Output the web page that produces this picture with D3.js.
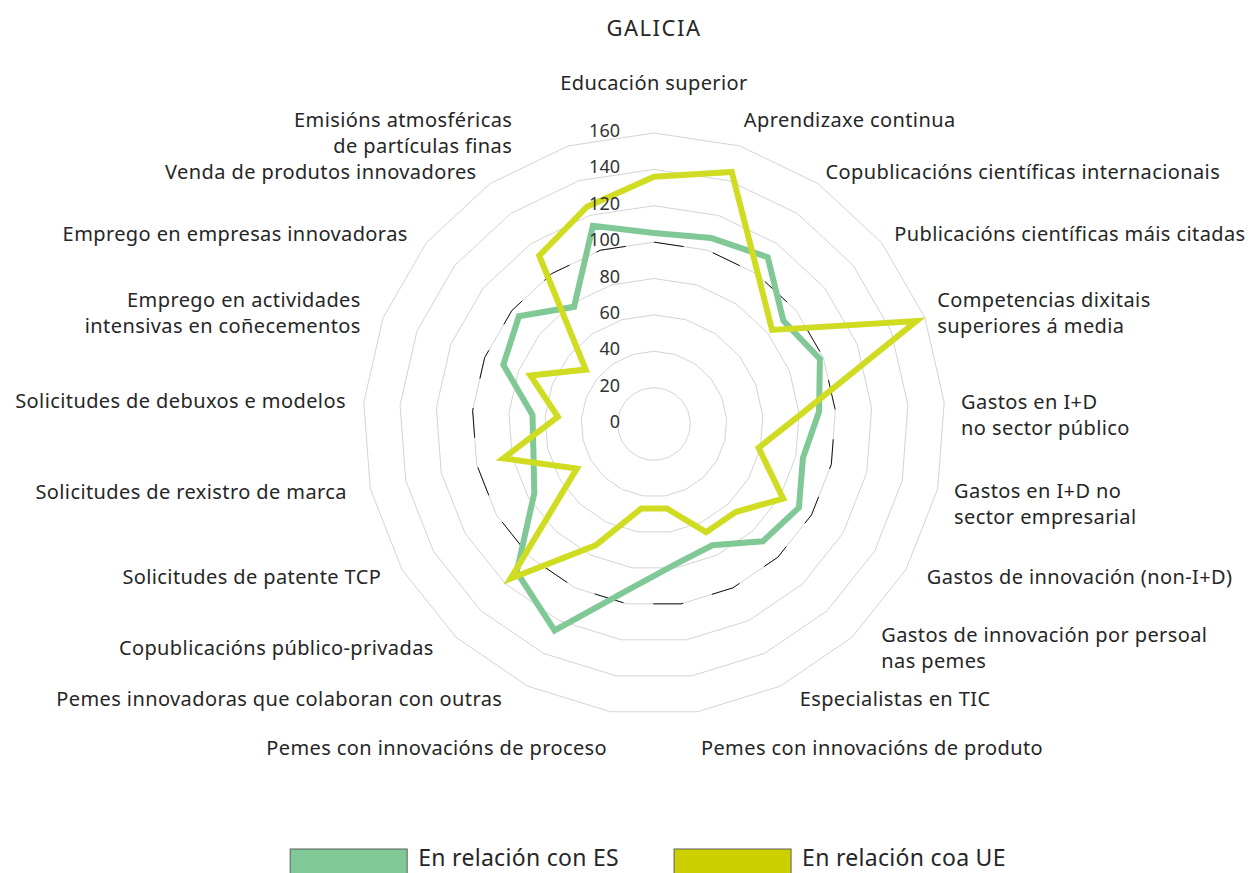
<!DOCTYPE html>
<html>
<head>
<meta charset="utf-8">
<script src="https://cdn.jsdelivr.net/npm/d3@7"></script>
<style>
    body { margin: 0; background: #fff; }
    svg text { font-family: "Noto Sans", sans-serif; fill: #262626; }
</style>
</head>
<body>
<script>
//axis categories, clockwise from the top ("\n" splits a label in two lines)
var categories = [
    "Educación superior",
    "Aprendizaxe continua",
    "Copublicacións científicas internacionais",
    "Publicacións científicas máis citadas",
    "Competencias dixitais\nsuperiores á media",
    "Gastos en I+D\nno sector público",
    "Gastos en I+D no\nsector empresarial",
    "Gastos de innovación (non-I+D)",
    "Gastos de innovación por persoal\nnas pemes",
    "Especialistas en TIC",
    "Pemes con innovacións de produto",
    "Pemes con innovacións de proceso",
    "Pemes innovadoras que colaboran con outras",
    "Copublicacións público-privadas",
    "Solicitudes de patente TCP",
    "Solicitudes de rexistro de marca",
    "Solicitudes de debuxos e modelos",
    "Emprego en actividades\nintensivas en coñecementos",
    "Emprego en empresas innovadoras",
    "Venda de produtos innovadores",
    "Emisións atmosféricas\nde partículas finas"
];

var seriesNames = ["En relación con ES", "En relación coa UE"];

//index values, Galicia relative to Spain
var valuesES = [105, 107, 111, 91, 98, 91, 84, 92, 88, 74, 78, 92, 126, 111, 76, 68, 67, 89, 95, 78, 114];

//index values, Galicia relative to the EU
var valuesUE = [136, 145, 101, 83, 155, 82, 59, 82, 66, 66, 47, 47, 74, 116, 49, 85, 53, 73, 48, 112, 125];

var referenceValue = 100;
var tickValues = [0, 20, 40, 60, 80, 100, 120, 140, 160];
var chartTitle = "GALICIA";

function setChart() {
    var width = 1252,
        height = 873;
    var cx = 654,
        cy = 424,
        radius = 291;

    var colorES = "#80c996",
        colorUE = "#d0dc22",
        legendColors = ["#80c996", "#cccf00"];

    //small label nudges (dx, dy) where the automatic placement drifts
    var labelNudge = {
        1: [-3, -13], 2: [-6, 0], 3: [-6, 0], 4: [-10, 0], 5: [-7, 14], 6: [-7, 12],
        8: [13, 0], 9: [9, 0], 12: [-15, 0], 13: [-6, 0], 16: [6, 0]
    };

    var svg = d3.select("body")
        .append("svg")
        .attr("width", width)
        .attr("height", height);

    //title
    svg.append("text")
        .attr("x", cx)
        .attr("y", 27)
        .attr("text-anchor", "middle")
        .attr("dominant-baseline", "central")
        .style("font-size", "22px")
        .style("letter-spacing", "1.5px")
        .text(chartTitle);

    //angle scale goes clockwise from 12 o'clock, radius scale from 0 to 160
    var angle = d3.scaleLinear()
        .domain([0, categories.length])
        .range([0, 2 * Math.PI]);
    var r = d3.scaleLinear()
        .domain([0, d3.max(tickValues)])
        .range([0, radius]);

    var radial = d3.lineRadial()
        .angle(function (d, i) { return angle(i); })
        .radius(function (d) { return r(d); })
        .curve(d3.curveLinearClosed);

    var g = svg.append("g")
        .attr("transform", `translate(${cx},${cy})`);

    //polygon gridlines
    g.selectAll(".grid")
        .data(tickValues.filter(function (t) { return t > 0; }))
        .join("path")
        .attr("class", "grid")
        .attr("d", function (t) { return radial(categories.map(function () { return t; })); })
        .attr("fill", "none")
        .attr("stroke", "#d4d4d4")
        .attr("stroke-width", 1);

    //dashed reference line at 100
    g.append("path")
        .attr("d", radial(categories.map(function () { return referenceValue; })))
        .attr("fill", "none")
        .attr("stroke", "#111")
        .attr("stroke-width", 1)
        .attr("stroke-dasharray", "30,30");

    //series lines
    [[valuesES, colorES], [valuesUE, colorUE]].forEach(function (s) {
        g.append("path")
            .attr("d", radial(s[0]))
            .attr("fill", "none")
            .attr("stroke", s[1])
            .attr("stroke-width", 6)
            .attr("stroke-linejoin", "miter")
            .attr("stroke-miterlimit", 10);
    });

    //tick labels on the vertical axis
    g.selectAll(".tick")
        .data(tickValues)
        .join("text")
        .attr("class", "tick")
        .attr("x", -34)
        .attr("y", function (t) { return -r(t) - 3; })
        .attr("text-anchor", "end")
        .attr("dominant-baseline", "central")
        .style("font-size", "18px")
        .style("fill", "#333")
        .text(function (t) { return t; });

    //category labels around the outside
    var labelBoxes = [];
    categories.forEach(function (cat, i) {
        var a = angle(i),
            s = Math.sin(a),
            c = Math.cos(a);
        var lines = cat.split("\n");
        var anchor = s > 0.05 ? "start" : (s < -0.05 ? "end" : "middle");
        var nudge = labelNudge[i] || [0, 0];
        var x = 315 * s + nudge[0];
        var y = -305 * c + nudge[1];
        if (Math.abs(c) > 0.98) y += c > 0 ? -36 : 22;

        var t = g.append("text")
            .attr("class", "cat")
            .attr("text-anchor", anchor)
            .style("font-size", "20px")
            .style("letter-spacing", "0.4px");
        lines.forEach(function (line, k) {
            t.append("tspan")
                .attr("x", x)
                .attr("y", y + (k - (lines.length - 1) / 2) * 26)
                .attr("dy", "0.35em")
                .text(line);
        });
        labelBoxes.push({ node: t, box: t.node().getBBox(), anchor: anchor, cos: c });
    });

    //push labels on the upper left away from the top label
    var top = labelBoxes[0].box;
    labelBoxes.forEach(function (lb, i) {
        if (i === 0 || lb.anchor !== "end" || lb.cos < 0) return;
        var b = lb.box;
        var overlapY = b.y < top.y + top.height + 60;
        var shift = (b.x + b.width) - (top.x - 48);
        if (overlapY && shift > 0) {
            lb.node.attr("transform", `translate(${-shift},0)`);
        }
    });

    //legend
    var legend = svg.append("g");
    var xPos = 0;
    seriesNames.forEach(function (name, i) {
        var item = legend.append("g").attr("transform", `translate(${xPos},0)`);
        item.append("rect")
            .attr("x", 0)
            .attr("y", 849)
            .attr("width", 117)
            .attr("height", 30)
            .attr("fill", legendColors[i])
            .attr("stroke", "#5f5f5f")
            .attr("stroke-width", 1);
        var txt = item.append("text")
            .attr("x", 128)
            .attr("y", 866)
            .style("font-size", "23px")
            .style("letter-spacing", "0.3px")
            .text(name);
        xPos += 128 + txt.node().getComputedTextLength() + 55;
    });
    var legendWidth = xPos - 55;
    legend.attr("transform", `translate(${648 - legendWidth / 2},0)`);
}

window.onload = setChart();
</script>
</body>
</html>
